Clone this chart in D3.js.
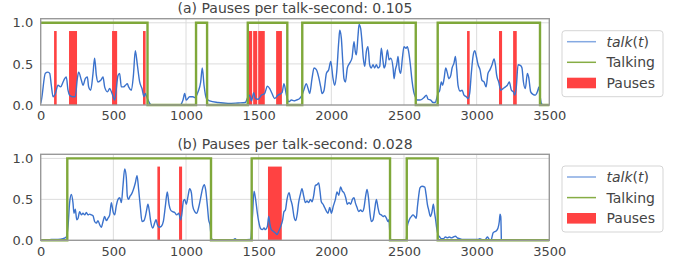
<!DOCTYPE html>
<html>
<head>
<meta charset="utf-8">
<script src="https://cdn.jsdelivr.net/npm/d3@7"></script>
<style>
  body { margin: 0; background: #fff; }
  svg { font-family: "DejaVu Sans", sans-serif; }
</style>
</head>
<body>
<div id="chart"></div>
<script>
// ---- data ----
const xTicks = [0, 500, 1000, 1500, 2000, 2500, 3000, 3500];
const yTicks = [0, 0.5, 1.0];
const titles = ["(a) Pauses per talk-second: 0.105", "(b) Pauses per talk-second: 0.028"];
const legendLabels = ["talk", "Talking", "Pauses"];

// talk(t) curve, [time, value]
const talkA = [[0,0.02],[5,0.06],[32,0.385],[50,0.40],[62,0.385],[73,0.24],[85,0.10],[101,0.14],[119,0.24],[137,0.22],[154,0.28],[165,0.32],[176,0.34],[188,0.18],[199,0.12],[222,0.10],[238,0.10],[252,0.32],[261,0.40],[280,0.30],[291,0.24],[307,0.32],[321,0.34],[330,0.22],[344,0.18],[360,0.385],[371,0.57],[383,0.36],[394,0.28],[413,0.30],[429,0.34],[440,0.22],[459,0.16],[475,0.20],[491,0.14],[509,0.06],[532,0.36],[543,0.385],[555,0.22],[569,0.22],[583,0.24],[596,0.26],[605,0.22],[624,0.18],[638,0.36],[651,0.66],[665,0.49],[681,0.28],[697,0.20],[711,0.10],[720,0.14],[734,0.08],[750,0.02],[760,0.0],[960,0.0],[979,0.06],[991,0.14],[1002,0.06],[1025,0.10],[1048,0.10],[1060,0.09],[1083,0.16],[1101,0.28],[1112,0.45],[1124,0.24],[1140,0.08],[1163,0.05],[1220,0.03],[1289,0.02],[1358,0.025],[1408,0.03],[1422,0.08],[1438,0.12],[1450,0.05],[1466,0.15],[1477,0.08],[1496,0.07],[1519,0.12],[1541,0.14],[1560,0.23],[1576,0.20],[1592,0.14],[1610,0.08],[1633,0.12],[1661,0.15],[1674,0.26],[1691,0.12],[1707,0.04],[1725,0.06],[1743,0.05],[1759,0.06],[1782,0.08],[1798,0.12],[1812,0.19],[1828,0.26],[1840,0.20],[1851,0.14],[1867,0.32],[1881,0.45],[1897,0.43],[1913,0.34],[1927,0.22],[1936,0.14],[1950,0.18],[1966,0.385],[1982,0.43],[1996,0.53],[2012,0.32],[2023,0.24],[2037,0.40],[2051,0.77],[2058,0.91],[2069,0.81],[2078,0.55],[2087,0.32],[2097,0.28],[2110,0.45],[2126,0.51],[2142,0.57],[2156,0.77],[2165,0.65],[2172,0.61],[2184,0.85],[2191,0.98],[2202,0.93],[2211,0.77],[2220,0.57],[2230,0.47],[2241,0.65],[2252,0.71],[2264,0.49],[2275,0.45],[2287,0.49],[2298,0.45],[2310,0.49],[2321,0.45],[2333,0.47],[2344,0.69],[2356,0.53],[2363,0.45],[2372,0.49],[2386,0.67],[2397,0.55],[2409,0.57],[2425,0.45],[2432,0.32],[2441,0.43],[2450,0.49],[2459,0.59],[2468,0.43],[2477,0.385],[2489,0.57],[2500,0.71],[2514,0.69],[2523,0.71],[2532,0.65],[2544,0.49],[2555,0.30],[2567,0.16],[2578,0.10],[2592,0.06],[2608,0.06],[2624,0.07],[2638,0.09],[2654,0.12],[2666,0.07],[2684,0.06],[2700,0.03],[2716,0.03],[2725,0.08],[2734,0.14],[2746,0.18],[2757,0.28],[2766,0.24],[2776,0.32],[2787,0.45],[2799,0.385],[2808,0.32],[2822,0.36],[2831,0.45],[2844,0.51],[2854,0.59],[2863,0.43],[2872,0.24],[2886,0.17],[2900,0.18],[2913,0.12],[2929,0.10],[2941,0.08],[2952,0.14],[2964,0.40],[2975,0.59],[2987,0.66],[2998,0.59],[3010,0.49],[3023,0.43],[3037,0.30],[3051,0.28],[3065,0.22],[3078,0.385],[3092,0.43],[3106,0.49],[3120,0.56],[3129,0.49],[3138,0.36],[3152,0.28],[3166,0.18],[3182,0.20],[3198,0.22],[3211,0.24],[3225,0.28],[3239,0.18],[3253,0.16],[3262,0.12],[3273,0.22],[3285,0.49],[3303,0.48],[3312,0.45],[3322,0.28],[3335,0.20],[3349,0.385],[3358,0.34],[3372,0.16],[3388,0.13],[3404,0.12],[3418,0.16],[3429,0.22],[3436,0.12],[3445,0.02],[3455,0.0]];

const talkB = [[0,0.0],[27,0.0],[73,0.01],[119,0.01],[154,0.02],[176,0.04],[188,0.17],[199,0.46],[211,0.56],[222,0.46],[229,0.33],[238,0.38],[248,0.25],[257,0.27],[268,0.35],[280,0.31],[291,0.33],[303,0.31],[314,0.34],[326,0.31],[337,0.32],[349,0.31],[360,0.30],[371,0.23],[383,0.21],[394,0.24],[406,0.19],[417,0.16],[429,0.23],[440,0.29],[452,0.24],[463,0.27],[475,0.31],[486,0.46],[498,0.35],[509,0.31],[520,0.42],[532,0.50],[544,0.52],[555,0.46],[566,0.66],[578,0.87],[589,0.77],[596,0.54],[605,0.50],[615,0.54],[624,0.56],[638,0.62],[651,0.70],[663,0.79],[674,0.62],[686,0.40],[697,0.23],[711,0.24],[720,0.29],[729,0.37],[738,0.44],[748,0.35],[757,0.23],[771,0.15],[784,0.21],[794,0.25],[803,0.19],[814,0.16],[830,0.17],[844,0.23],[858,0.42],[871,0.59],[883,0.44],[894,0.37],[908,0.35],[922,0.34],[936,0.31],[950,0.33],[963,0.25],[972,0.33],[982,0.48],[991,0.50],[1002,0.44],[1014,0.54],[1025,0.63],[1037,0.58],[1046,0.42],[1060,0.35],[1073,0.33],[1087,0.40],[1101,0.52],[1115,0.64],[1126,0.68],[1135,0.62],[1147,0.42],[1156,0.25],[1165,0.19],[1175,0.02],[1200,0.0],[1320,0.0],[1338,0.02],[1350,0.0],[1440,0.01],[1445,0.01],[1457,0.29],[1468,0.60],[1479,0.50],[1491,0.33],[1500,0.23],[1514,0.14],[1525,0.13],[1537,0.15],[1546,0.13],[1560,0.17],[1569,0.29],[1578,0.19],[1587,0.13],[1601,0.11],[1615,0.09],[1626,0.07],[1638,0.11],[1652,0.17],[1665,0.25],[1674,0.35],[1684,0.37],[1695,0.50],[1709,0.58],[1720,0.50],[1732,0.42],[1743,0.29],[1755,0.24],[1766,0.33],[1775,0.46],[1787,0.56],[1798,0.63],[1810,0.54],[1821,0.46],[1833,0.48],[1844,0.46],[1856,0.50],[1867,0.47],[1879,0.55],[1890,0.67],[1902,0.68],[1913,0.70],[1922,0.60],[1931,0.47],[1943,0.44],[1954,0.40],[1968,0.35],[1977,0.33],[1989,0.40],[2000,0.33],[2014,0.42],[2028,0.50],[2039,0.59],[2051,0.55],[2064,0.65],[2076,0.60],[2087,0.58],[2099,0.52],[2110,0.44],[2122,0.46],[2133,0.44],[2145,0.50],[2156,0.52],[2165,0.46],[2177,0.40],[2188,0.35],[2202,0.37],[2213,0.35],[2225,0.40],[2236,0.54],[2246,0.62],[2257,0.50],[2266,0.33],[2275,0.23],[2287,0.25],[2298,0.37],[2310,0.50],[2321,0.40],[2333,0.32],[2344,0.31],[2356,0.29],[2367,0.30],[2379,0.27],[2390,0.23],[2397,0.25],[2405,0.02],[2420,0.0],[2515,0.0],[2523,0.17],[2532,0.23],[2542,0.27],[2551,0.29],[2562,0.31],[2574,0.29],[2585,0.27],[2592,0.40],[2601,0.54],[2610,0.64],[2624,0.66],[2643,0.65],[2652,0.56],[2661,0.44],[2670,0.37],[2682,0.29],[2693,0.35],[2702,0.44],[2711,0.33],[2718,0.25],[2725,0.15],[2734,0.07],[2746,0.04],[2757,0.02],[2771,0.02],[2785,0.04],[2799,0.03],[2812,0.04],[2826,0.03],[2840,0.04],[2854,0.05],[2867,0.03],[2883,0.02],[2906,0.01],[2952,0.01],[3010,0.01],[3021,0.02],[3033,0.01],[3056,0.0],[3074,0.04],[3083,0.02],[3090,0.0],[3101,0.01],[3113,0.09],[3129,0.11],[3138,0.12],[3147,0.15],[3156,0.23],[3161,0.32],[3166,0.29],[3170,0.01]];

// talking intervals [start, end]
const talkingA = [[0, 735], [1069, 1145], [1425, 1697], [1800, 2581], [2732, 3436]];
const talkingB = [[183, 1172], [1452, 2404], [2519, 2732]];

// pause intervals [start, end], all drawn to height pauseHeight
const pausesA = [[92, 110], [195, 250], [491, 526], [704, 722], [1430, 1455], [1462, 1490], [1497, 1542], [1620, 1660], [2934, 2952], [3154, 3175], [3251, 3276]];
const pausesB = [[803, 821], [952, 973], [1564, 1659]];
const pauseHeight = 0.9;

// ---- drawing ----
const W = 678, H = 267;
const blue = "#3b72cc", green = "#7fa83a", red = "#ff4242";

const svg = d3.select("#chart").append("svg")
  .attr("width", W)
  .attr("height", H);

const x = d3.scaleLinear().domain([0, 3500]).range([40.7, 549.3]);

function stepData(intervals) {
  // turn talking intervals into a 0/1 step series over the x domain
  const pts = [];
  let last = 0;
  if (intervals[0][0] > 0) pts.push([0, 0]);
  intervals.forEach(([a, b]) => {
    if (a > 0) pts.push([a, 0]);
    pts.push([a, 1]);
    pts.push([b, 1]);
    pts.push([b, 0]);
    last = b;
  });
  if (last < 3500) pts.push([3500, 0]);
  return pts;
}

function drawPanel(top, bottom, title, talk, talking, pauses, legendTop) {
  const y = d3.scaleLinear().domain([0, 1.05]).range([bottom, top]);
  const g = svg.append("g");

  // grid
  g.selectAll(".gx").data(xTicks.slice(1, -1)).enter().append("line")
    .attr("x1", d => x(d)).attr("x2", d => x(d))
    .attr("y1", top).attr("y2", bottom)
    .attr("stroke", "#dcdcdc").attr("stroke-width", 1);
  g.selectAll(".gy").data(yTicks.slice(1)).enter().append("line")
    .attr("x1", x.range()[0]).attr("x2", x.range()[1])
    .attr("y1", d => y(d)).attr("y2", d => y(d))
    .attr("stroke", "#dcdcdc").attr("stroke-width", 1);

  // pauses
  g.selectAll(".pause").data(pauses).enter().append("rect")
    .attr("x", d => x(d[0]))
    .attr("width", d => Math.max(2.5, x(d[1]) - x(d[0])))
    .attr("y", y(pauseHeight))
    .attr("height", y(0) - y(pauseHeight))
    .attr("fill", red);

  // talk(t)
  const line = d3.line().x(d => x(d[0])).y(d => y(d[1])).curve(d3.curveMonotoneX);
  g.append("path").datum(talk)
    .attr("d", line)
    .attr("fill", "none")
    .attr("stroke", blue)
    .attr("stroke-width", 1.4);

  // talking step
  const step = d3.line().x(d => x(d[0])).y(d => y(d[1]));
  g.append("path").datum(stepData(talking))
    .attr("d", step)
    .attr("fill", "none")
    .attr("stroke", green)
    .attr("stroke-width", 2.4);

  // frame
  g.append("rect")
    .attr("x", x.range()[0]).attr("y", top)
    .attr("width", x.range()[1] - x.range()[0])
    .attr("height", bottom - top)
    .attr("fill", "none")
    .attr("stroke", "#999")
    .attr("stroke-width", 1.4);

  // axes
  const xAxis = d3.axisBottom(x).tickValues(xTicks).tickFormat(d3.format("d")).tickSize(0).tickPadding(6);
  const yAxis = d3.axisLeft(y).tickValues(yTicks).tickFormat(d3.format(".1f")).tickSize(0).tickPadding(7.5);
  const ax = g.append("g").attr("transform", `translate(0,${bottom})`).call(xAxis);
  const ay = g.append("g").attr("transform", `translate(${x.range()[0]},0)`).call(yAxis);
  [ax, ay].forEach(a => {
    a.select(".domain").remove();
    a.selectAll("text").attr("font-size", 13).attr("fill", "#444")
      .attr("font-family", "DejaVu Sans, sans-serif");
  });

  // title
  g.append("text")
    .attr("x", (x.range()[0] + x.range()[1]) / 2)
    .attr("y", top - 5.5)
    .attr("text-anchor", "middle")
    .attr("font-size", 14)
    .attr("fill", "#444")
    .text(title);

  // legend
  const lg = g.append("g").attr("transform", `translate(562,${legendTop})`);
  lg.append("rect")
    .attr("width", 101).attr("height", 66)
    .attr("rx", 3)
    .attr("fill", "#fff")
    .attr("stroke", "#d5d5d5");
  const rows = [11, 31.6, 52.3];
  lg.append("line").attr("x1", 5).attr("x2", 34).attr("y1", rows[0]).attr("y2", rows[0])
    .attr("stroke", "#84a9e2").attr("stroke-width", 1.5);
  lg.append("line").attr("x1", 5).attr("x2", 34).attr("y1", rows[1]).attr("y2", rows[1])
    .attr("stroke", "#86ad45").attr("stroke-width", 1.5);
  lg.append("rect").attr("x", 5).attr("width", 29).attr("y", rows[2] - 5.3).attr("height", 10.6)
    .attr("fill", red);
  const t0 = lg.append("text").attr("x", 44.5).attr("y", rows[0]).attr("dy", "0.35em")
    .attr("font-size", 14).attr("fill", "#444");
  t0.append("tspan").attr("font-style", "italic").text(legendLabels[0]);
  t0.append("tspan").text("(");
  t0.append("tspan").attr("font-style", "italic").text("t");
  t0.append("tspan").text(")");
  lg.append("text").attr("x", 44.5).attr("y", rows[1]).attr("dy", "0.35em")
    .attr("font-size", 14).attr("fill", "#444").text(legendLabels[1]);
  lg.append("text").attr("x", 44.5).attr("y", rows[2]).attr("dy", "0.35em")
    .attr("font-size", 14).attr("fill", "#444").text(legendLabels[2]);
}

drawPanel(18.7, 105, titles[0], talkA, talkingA, pausesA, 30.7);
drawPanel(154.3, 240.3, titles[1], talkB, talkingB, pausesB, 166);
</script>
</body>
</html>
